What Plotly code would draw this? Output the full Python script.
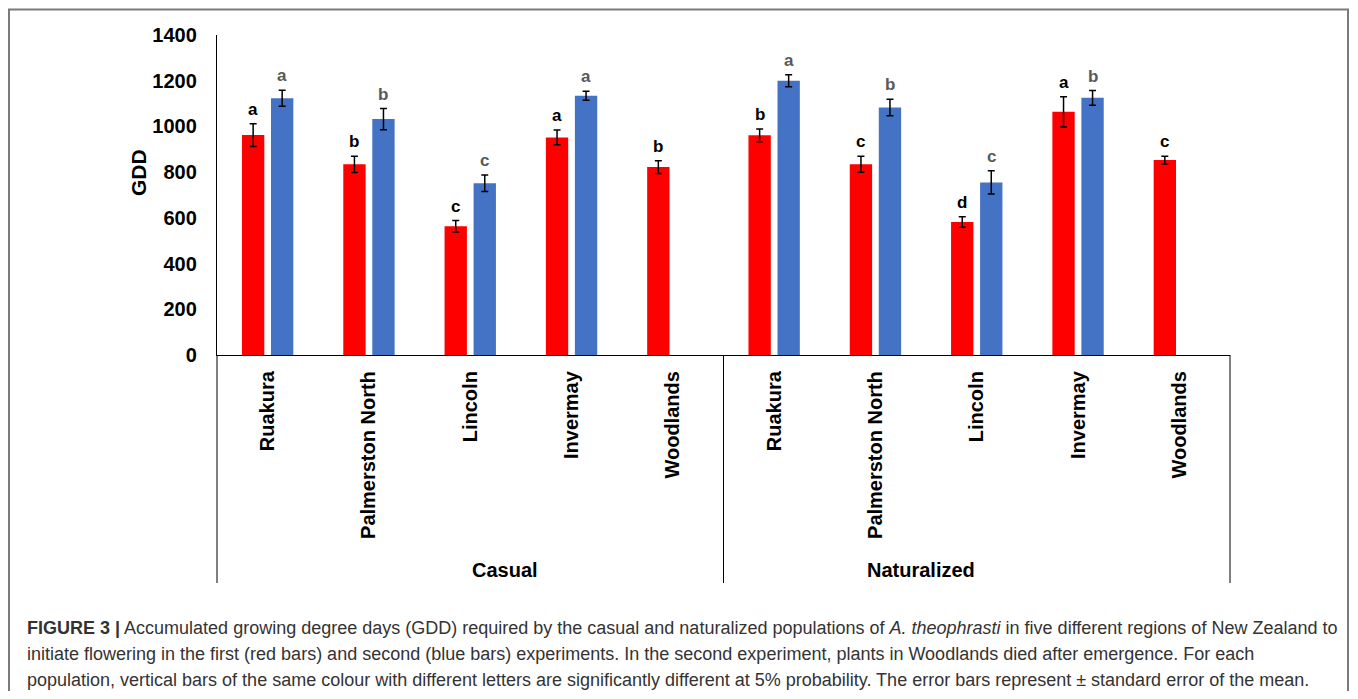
import plotly.graph_objects as go

# ---- data ----
groups = ["Casual", "Naturalized"]
sites = ["Ruakura", "Palmerston North", "Lincoln", "Invermay", "Woodlands"]

exp1_casual = [962, 834, 563, 952, 822]
exp1_casual_se = [50, 36, 25, 32, 28]
exp1_casual_letters = ["a", "b", "c", "a", "b"]
exp2_casual = [1123, 1032, 751, 1134, None]
exp2_casual_se = [35, 46, 36, 20, None]
exp2_casual_letters = ["a", "b", "c", "a", None]

exp1_nat = [961, 834, 582, 1064, 853]
exp1_nat_se = [28, 35, 23, 66, 17]
exp1_nat_letters = ["b", "c", "d", "a", "c"]
exp2_nat = [1200, 1083, 755, 1125, None]
exp2_nat_se = [26, 36, 51, 32, None]
exp2_nat_letters = ["a", "b", "c", "b", None]

y_ticks = [0, 200, 400, 600, 800, 1000, 1200, 1400]

caption_lines = [
    "<b>FIGURE 3 |</b> Accumulated growing degree days (GDD) required by the casual and naturalized populations of <i>A. theophrasti</i> in five different regions of New Zealand to",
    "initiate flowering in the first (red bars) and second (blue bars) experiments. In the second experiment, plants in Woodlands died after emergence. For each",
    "population, vertical bars of the same colour with different letters are significantly different at 5% probability. The error bars represent ± standard error of the mean.",
]

# ---- build ----
labels = sites + sites
xpos = list(range(len(labels)))
red_vals = exp1_casual + exp1_nat
red_se = exp1_casual_se + exp1_nat_se
red_letters = exp1_casual_letters + exp1_nat_letters
blue_vals = exp2_casual + exp2_nat
blue_se = exp2_casual_se + exp2_nat_se
blue_letters = exp2_casual_letters + exp2_nat_letters

RED = "#FF0000"
BLUE = "#4472C4"
FONT = "Liberation Sans, Arial, sans-serif"

# the page adds an 8px body margin, so work in figure coordinates = page - 8
OFF = 8
W, H = 1342, 683
plot_left, plot_right, plot_top, plot_bottom = 217 - OFF, 1230 - OFF, 35 - OFF, 355 - OFF
ml, mr, mt, mb = plot_left, W - plot_right, plot_top, H - plot_bottom
plot_w = plot_right - plot_left
ph = plot_bottom - plot_top
BARGAP = 0.427
BARGROUPGAP = 0.23


def px_x(page_x):
    return (page_x - OFF - plot_left) / plot_w


def px_y(page_y):
    return (plot_bottom - (page_y - OFF)) / ph


fig = go.Figure()
fig.add_trace(go.Bar(
    x=xpos, y=red_vals, marker=dict(color=RED, line=dict(width=0)),
    error_y=dict(type="data", array=red_se, color="black", thickness=1.5, width=3.5),
    showlegend=False, hoverinfo="skip"))
fig.add_trace(go.Bar(
    x=xpos, y=blue_vals, marker=dict(color=BLUE, line=dict(width=0)),
    error_y=dict(type="data", array=[s if s is not None else 0 for s in blue_se],
                 color="black", thickness=1.5, width=3.5),
    showlegend=False, hoverinfo="skip"))

# letter positions from bar geometry
cat_px = plot_w / len(labels)
slot_px = cat_px * (1 - BARGAP) / 2
for i in xpos:
    v, s, t = red_vals[i], red_se[i], red_letters[i]
    fig.add_annotation(x=i, y=v + s, xref="x", yref="y", text=t, showarrow=False,
                       xshift=-slot_px / 2, yshift=3, yanchor="bottom",
                       font=dict(family=FONT, size=17, color="#000000", weight="bold"))
    v, s, t = blue_vals[i], blue_se[i], blue_letters[i]
    if v is not None:
        fig.add_annotation(x=i, y=v + s, xref="x", yref="y", text=t, showarrow=False,
                           xshift=slot_px / 2, yshift=3, yanchor="bottom",
                           font=dict(family=FONT, size=17, color="#595959", weight="bold"))

# group dividers below axis and group labels
for pxv in [0, 0.5, 1]:
    fig.add_shape(type="line", xref="paper", yref="paper", x0=pxv, x1=pxv, y0=0, y1=px_y(583),
                  line=dict(color="#000000", width=1))
for gi, g in enumerate(groups):
    fig.add_annotation(x=0.25 + 0.5 * gi, y=px_y(570), xref="paper", yref="paper", text=g,
                       showarrow=False, yanchor="middle",
                       font=dict(family=FONT, size=20, color="#000000", weight="bold"))

# y axis title
fig.add_annotation(x=px_x(138), y=px_y(173), xref="paper", yref="paper", text="GDD",
                   showarrow=False, textangle=-90, xanchor="center", yanchor="middle",
                   font=dict(family=FONT, size=21, color="#000000", weight="bold"))

# outer frame
fig.add_shape(type="rect", xref="paper", yref="paper",
              x0=px_x(9), x1=px_x(1348), y0=px_y(720), y1=px_y(9.5),
              line=dict(color="#7a7a7a", width=2), layer="below")

# caption
for li, line in enumerate(caption_lines):
    yc = 628 + 26 * li
    fig.add_annotation(x=px_x(25), y=px_y(yc), xref="paper", yref="paper",
                       text=line, showarrow=False, xanchor="left", yanchor="middle", align="left",
                       font=dict(family=FONT, size=18, color="#333333"))

fig.update_layout(
    width=W, height=H,
    margin=dict(l=ml, r=mr, t=mt, b=mb),
    paper_bgcolor="white", plot_bgcolor="white",
    barmode="group", bargap=BARGAP, bargroupgap=BARGROUPGAP,
    xaxis=dict(range=[-0.5, len(labels) - 0.5], tickvals=xpos, ticktext=labels,
               tickangle=-90, showgrid=False, zeroline=False,
               showline=True, linecolor="#000000", linewidth=1.3,
               ticks="", ticklabelstandoff=7,
               tickfont=dict(family=FONT, size=20, color="#000000", weight="bold")),
    yaxis=dict(range=[0, 1400], tickvals=y_ticks, showgrid=False, zeroline=False,
               showline=True, linecolor="#000000", linewidth=1.3,
               ticks="", ticklabelstandoff=15,
               tickfont=dict(family=FONT, size=20, color="#000000", weight="bold")),
)

fig.write_html("out.html")
